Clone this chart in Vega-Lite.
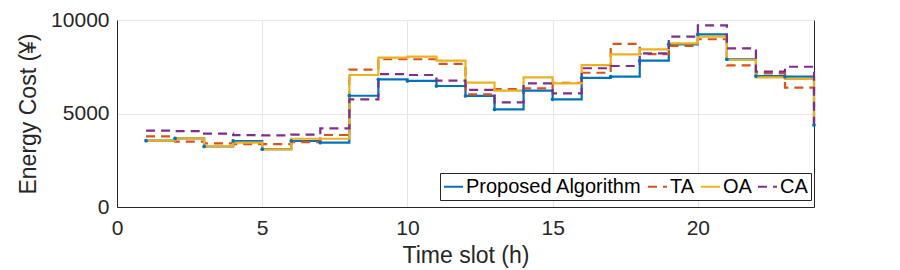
{
  "$schema": "https://vega.github.io/schema/vega-lite/v6.json",
  "width": 697,
  "height": 187,
  "autosize": {"type": "none"},
  "padding": {"left": 117, "top": 20, "right": 86, "bottom": 63},
  "background": "white",
  "config": {
    "font": "Liberation Sans",
    "view": {"stroke": "#262626", "strokeWidth": 1},
    "axis": {
      "labelFont": "Liberation Sans",
      "titleFont": "Liberation Sans",
      "labelColor": "#262626",
      "titleColor": "#262626",
      "labelFontSize": 21,
      "titleFontSize": 23,
      "titleFontWeight": "normal",
      "domainColor": "#262626",
      "gridColor": "#e6e6e6",
      "gridWidth": 1,
      "ticks": false
    },
    "legend": {
      "labelFont": "Liberation Sans",
      "labelFontSize": 20,
      "labelColor": "#000000",
      "labelLimit": 0
    }
  },
  "data": {
    "values": [
      {"t": 1, "cost": 3545, "method": "Proposed Algorithm"},
      {"t": 2, "cost": 3670, "method": "Proposed Algorithm"},
      {"t": 3, "cost": 3240, "method": "Proposed Algorithm"},
      {"t": 4, "cost": 3530, "method": "Proposed Algorithm"},
      {"t": 5, "cost": 3090, "method": "Proposed Algorithm"},
      {"t": 6, "cost": 3530, "method": "Proposed Algorithm"},
      {"t": 7, "cost": 3440, "method": "Proposed Algorithm"},
      {"t": 8, "cost": 5950, "method": "Proposed Algorithm"},
      {"t": 9, "cost": 6830, "method": "Proposed Algorithm"},
      {"t": 10, "cost": 6740, "method": "Proposed Algorithm"},
      {"t": 11, "cost": 6470, "method": "Proposed Algorithm"},
      {"t": 12, "cost": 5940, "method": "Proposed Algorithm"},
      {"t": 13, "cost": 5220, "method": "Proposed Algorithm"},
      {"t": 14, "cost": 6220, "method": "Proposed Algorithm"},
      {"t": 15, "cost": 5760, "method": "Proposed Algorithm"},
      {"t": 16, "cost": 6900, "method": "Proposed Algorithm"},
      {"t": 17, "cost": 6970, "method": "Proposed Algorithm"},
      {"t": 18, "cost": 7825, "method": "Proposed Algorithm"},
      {"t": 19, "cost": 8700, "method": "Proposed Algorithm"},
      {"t": 20, "cost": 9230, "method": "Proposed Algorithm"},
      {"t": 21, "cost": 7900, "method": "Proposed Algorithm"},
      {"t": 22, "cost": 7000, "method": "Proposed Algorithm"},
      {"t": 23, "cost": 6970, "method": "Proposed Algorithm"},
      {"t": 24, "cost": 4385, "method": "Proposed Algorithm"},
      {"t": 1, "cost": 3780, "method": "TA"},
      {"t": 2, "cost": 3500, "method": "TA"},
      {"t": 3, "cost": 3400, "method": "TA"},
      {"t": 4, "cost": 3360, "method": "TA"},
      {"t": 5, "cost": 3360, "method": "TA"},
      {"t": 6, "cost": 3470, "method": "TA"},
      {"t": 7, "cost": 3850, "method": "TA"},
      {"t": 8, "cost": 7350, "method": "TA"},
      {"t": 9, "cost": 7900, "method": "TA"},
      {"t": 10, "cost": 7900, "method": "TA"},
      {"t": 11, "cost": 7650, "method": "TA"},
      {"t": 12, "cost": 6020, "method": "TA"},
      {"t": 13, "cost": 6310, "method": "TA"},
      {"t": 14, "cost": 6340, "method": "TA"},
      {"t": 15, "cost": 6640, "method": "TA"},
      {"t": 16, "cost": 7180, "method": "TA"},
      {"t": 17, "cost": 8720, "method": "TA"},
      {"t": 18, "cost": 8180, "method": "TA"},
      {"t": 19, "cost": 8610, "method": "TA"},
      {"t": 20, "cost": 8970, "method": "TA"},
      {"t": 21, "cost": 7570, "method": "TA"},
      {"t": 22, "cost": 7150, "method": "TA"},
      {"t": 23, "cost": 6380, "method": "TA"},
      {"t": 24, "cost": 4385, "method": "TA"},
      {"t": 1, "cost": 3545, "method": "OA"},
      {"t": 2, "cost": 3670, "method": "OA"},
      {"t": 3, "cost": 3260, "method": "OA"},
      {"t": 4, "cost": 3440, "method": "OA"},
      {"t": 5, "cost": 3085, "method": "OA"},
      {"t": 6, "cost": 3650, "method": "OA"},
      {"t": 7, "cost": 3650, "method": "OA"},
      {"t": 8, "cost": 7060, "method": "OA"},
      {"t": 9, "cost": 7990, "method": "OA"},
      {"t": 10, "cost": 8040, "method": "OA"},
      {"t": 11, "cost": 7825, "method": "OA"},
      {"t": 12, "cost": 6650, "method": "OA"},
      {"t": 13, "cost": 6220, "method": "OA"},
      {"t": 14, "cost": 6930, "method": "OA"},
      {"t": 15, "cost": 6610, "method": "OA"},
      {"t": 16, "cost": 7590, "method": "OA"},
      {"t": 17, "cost": 8160, "method": "OA"},
      {"t": 18, "cost": 8430, "method": "OA"},
      {"t": 19, "cost": 8750, "method": "OA"},
      {"t": 20, "cost": 9110, "method": "OA"},
      {"t": 21, "cost": 7860, "method": "OA"},
      {"t": 22, "cost": 6930, "method": "OA"},
      {"t": 23, "cost": 6850, "method": "OA"},
      {"t": 24, "cost": 4385, "method": "OA"},
      {"t": 1, "cost": 4080, "method": "CA"},
      {"t": 2, "cost": 4060, "method": "CA"},
      {"t": 3, "cost": 3920, "method": "CA"},
      {"t": 4, "cost": 3840, "method": "CA"},
      {"t": 5, "cost": 3830, "method": "CA"},
      {"t": 6, "cost": 3870, "method": "CA"},
      {"t": 7, "cost": 4200, "method": "CA"},
      {"t": 8, "cost": 5760, "method": "CA"},
      {"t": 9, "cost": 7110, "method": "CA"},
      {"t": 10, "cost": 7060, "method": "CA"},
      {"t": 11, "cost": 6760, "method": "CA"},
      {"t": 12, "cost": 6260, "method": "CA"},
      {"t": 13, "cost": 5600, "method": "CA"},
      {"t": 14, "cost": 6610, "method": "CA"},
      {"t": 15, "cost": 6080, "method": "CA"},
      {"t": 16, "cost": 7420, "method": "CA"},
      {"t": 17, "cost": 7540, "method": "CA"},
      {"t": 18, "cost": 8220, "method": "CA"},
      {"t": 19, "cost": 9110, "method": "CA"},
      {"t": 20, "cost": 9710, "method": "CA"},
      {"t": 21, "cost": 8480, "method": "CA"},
      {"t": 22, "cost": 7240, "method": "CA"},
      {"t": 23, "cost": 7500, "method": "CA"},
      {"t": 24, "cost": 4385, "method": "CA"}
    ]
  },
  "encoding": {
    "x": {
      "field": "t",
      "type": "quantitative",
      "scale": {"domain": [0, 24], "nice": false},
      "axis": {"values": [0, 5, 10, 15, 20], "title": "Time slot (h)", "labelPadding": 10, "titlePadding": 6, "labelFlush": false}
    },
    "y": {
      "field": "cost",
      "type": "quantitative",
      "scale": {"domain": [0, 10000], "nice": false},
      "axis": {"values": [0, 5000, 10000], "format": "d", "title": "Energy Cost (¥)", "labelPadding": 8, "titlePadding": 10, "labelFlush": false}
    }
  },
  "layer": [
    {
      "mark": {"type": "line", "interpolate": "step-after", "strokeWidth": 2.2},
      "encoding": {
        "color": {
          "field": "method",
          "type": "nominal",
          "sort": ["Proposed Algorithm", "TA", "OA", "CA"],
          "scale": {"domain": ["Proposed Algorithm", "TA", "OA", "CA"], "range": ["#0072BD", "#D95319", "#EDB120", "#7E2F8E"]},
          "legend": {
            "title": null,
            "orient": "none",
            "direction": "horizontal",
            "legendX": 323,
            "legendY": 153,
            "columns": 4,
            "symbolType": "stroke",
            "symbolSize": 361,
            "symbolStrokeWidth": 2,
            "labelOffset": 2,
            "columnPadding": 2,
            "padding": 3,
            "strokeColor": "#262626",
            "fillColor": "white"
          }
        },
        "strokeDash": {
          "field": "method",
          "type": "nominal",
          "sort": ["Proposed Algorithm", "TA", "OA", "CA"],
          "scale": {"domain": ["Proposed Algorithm", "TA", "OA", "CA"], "range": [[1, 0], [9, 6], [1, 0], [9, 6]]},
          "legend": null
        },
        "order": {"field": "t"}
      }
    },
    {
      "transform": [{"filter": "datum.method === 'Proposed Algorithm'"}],
      "mark": {"type": "point", "filled": true, "size": 14, "color": "#0072BD", "opacity": 1},
      "encoding": {}
    }
  ]
}
